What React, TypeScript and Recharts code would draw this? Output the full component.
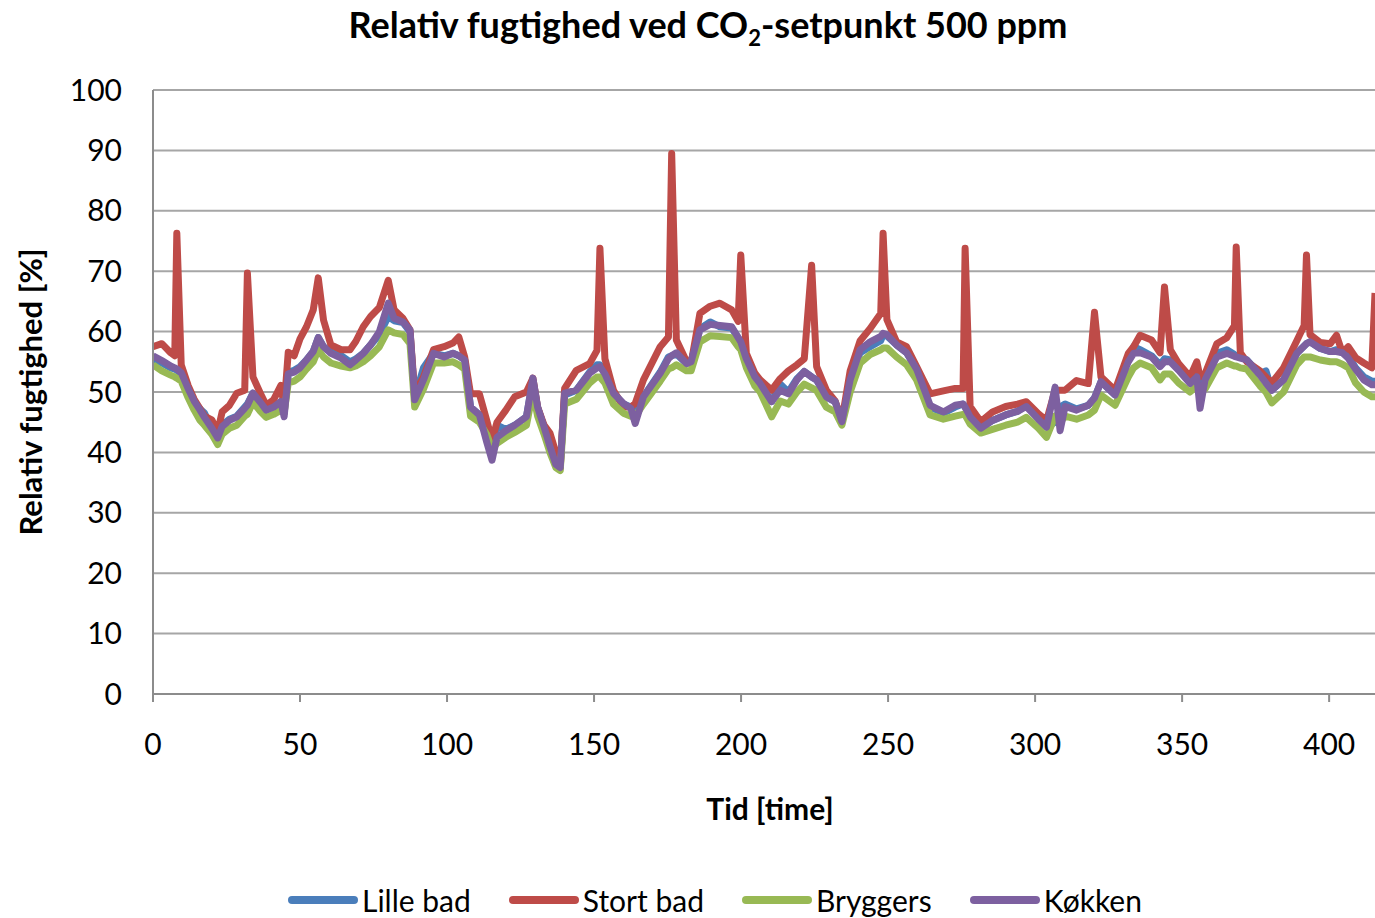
import React from 'react';
import { LineChart, Line, XAxis, YAxis, CartesianGrid, Legend } from 'recharts';

// time [hours]
const hours = [
  0, 3, 6, 7.4, 8.1, 9.6, 12, 14, 16, 17.5, 20, 22, 23.5, 26, 28.5, 31.2, 32.1, 34, 36.5, 38.5,
  41, 43.5, 44.6, 46, 48, 50, 52.2, 54.5, 56.2, 58, 60.5, 64, 67, 69, 71.5, 74, 77, 80, 82, 85,
  87.4, 89, 92, 95.4, 99, 102, 104, 106, 108, 111, 113.5, 115.3, 117, 120, 123, 127, 129.2, 130.8, 133, 135,
  137, 138.5, 140, 144, 148.5, 151, 152, 153.7, 156.6, 160, 162.5, 164, 166.8, 172.5, 175.3, 176.4, 178, 181.5, 183, 186,
  189.5, 192.8, 196.8, 199, 199.9, 201.8, 204.7, 206.5, 210.4, 213.3, 216.1, 219, 221.5, 224, 225.7, 229, 232, 234.3, 237.1, 240.5,
  243.9, 247.5, 248.3, 249.6, 252.9, 256.3, 259.7, 264.3, 268.8, 272.8, 275.5, 276.2, 277.9, 281.5, 285.5, 290, 294, 297, 301.1, 303.9,
  306.8, 308.5, 310.2, 314.1, 318.1, 320.2, 322.4, 327.2, 331.7, 333.5, 335.7, 339.6, 342.5, 344, 346, 348.8, 352.7, 355, 356.1, 357.8,
  361.8, 365.2, 367.8, 368.4, 369.8, 372, 376.5, 378.5, 380.5, 384.5, 389, 391.5, 392.3, 393.5, 397, 400.4, 402.5, 404.5, 406.5, 409,
  411.8, 414.5, 415.6,
];

const kokken = [
  56, 55.2, 54.3, 54, 53.8, 53.2, 50.5, 48.5, 47, 45.8, 44, 42.4, 44.3, 45.3, 45.9, 47.3, 47.8, 49.8, 48.3, 47,
  47.5, 48.4, 45.9, 53, 53.3, 54, 55.3, 56.7, 59, 57.5, 56.4, 55.6, 54.5, 55.3, 56.4, 57.8, 60, 64.7, 62.2, 61.6,
  60.3, 48.7, 52, 56.4, 55.8, 56.4, 56, 55.3, 47.5, 46.2, 41.7, 38.7, 42.5, 43.6, 44.5, 45.9, 52.3, 47.5, 44.2, 41,
  38, 37.5, 49.8, 50.3, 53.1, 54, 54.2, 53, 49.8, 48.1, 47.3, 44.8, 49.2, 53.1, 55.5, 56, 56.5, 54.7, 55, 60.3,
  61.2, 61, 60.8, 59, 58.3, 55.5, 52.5, 51.4, 48.4, 50.3, 49.7, 52, 53.4, 52.5, 52, 49.2, 48.4, 45.1, 52, 57,
  58.3, 59.2, 59.7, 59.5, 57.8, 56.5, 53.8, 47.8, 46.7, 47.8, 48, 47.5, 45.9, 44, 45.3, 46.2, 46.8, 47.6, 45.5, 44.2,
  50.8, 43.6, 47.6, 47, 47.8, 49, 51.7, 49.5, 55, 56.4, 56.5, 55.8, 54.2, 55, 55, 53.6, 51.4, 52.5, 47.3, 52,
  55.8, 56.4, 55.9, 55.8, 55.6, 55.3, 52.8, 51.5, 50.3, 52, 56.4, 57.6, 58, 58.3, 57.2, 56.7, 56.7, 56.5, 55.6, 53.8,
  52, 51.2, 51.2,
];

const stortBad = [
  57.5, 58, 56.5, 56, 76.3, 54.5, 51, 48.8, 47.2, 46, 45.4, 43.4, 46.7, 47.8, 49.8, 50.3, 69.7, 52.5, 49.8, 47.8,
  48.7, 51.1, 47.5, 56.6, 56, 58.8, 60.8, 63.6, 68.9, 61.9, 57.8, 57, 57, 58.4, 60.8, 62.5, 64, 68.5, 63.6, 62.2,
  60.3, 49.7, 52.5, 57, 57.5, 58.1, 59.1, 55.8, 49.7, 49.7, 45.3, 42, 45, 47, 49.2, 50, 52.3, 47.5, 44.5, 43.2,
  40, 37.3, 50.6, 53.6, 54.7, 56.9, 73.8, 55.5, 50.3, 47.5, 47.5, 48.1, 52, 57.5, 59.1, 89.5, 58.6, 55, 54.7, 63,
  64.2, 64.7, 63.6, 61.7, 72.7, 56.4, 53.1, 52, 50.3, 52.2, 53.5, 54.5, 55.5, 71, 54.2, 50.3, 48.5, 45.3, 53.5, 58.5,
  60.5, 63, 76.3, 62, 58.3, 57.5, 54.2, 49.7, 50.2, 50.6, 50.6, 73.8, 47.6, 45.1, 46.7, 47.6, 48, 48.4, 46.4, 45.3,
  50.3, 50.3, 50.3, 51.9, 51.4, 63.2, 52.5, 50.3, 56.4, 57.5, 59.4, 58.6, 56.5, 67.4, 57, 54.7, 52.5, 55, 52.5, 53,
  58, 59, 61, 74, 56.5, 55, 53.5, 52.5, 51.5, 54, 58.5, 61, 72.7, 59.5, 58.2, 58, 59.4, 56.5, 57.5, 55.7,
  54.8, 54, 66.4,
];

const bryggers = [
  54.5, 53.5, 52.8, 52.5, 52.3, 51.8, 49, 47, 45.3, 44.5, 43, 41.3, 43, 44, 44.5, 46, 46.3, 48.3, 46.8, 45.8,
  46.3, 47, 46.5, 51.5, 51.8, 52.5, 53.8, 55, 57, 55.8, 54.8, 54.3, 54, 54.3, 55, 56, 57.5, 60.3, 59.8, 59.5,
  58, 47.5, 50.5, 54.8, 54.8, 55, 54.5, 53.8, 46, 45, 43, 40.5, 41.5, 42.5, 43.3, 44.5, 50, 46, 43, 40,
  37.5, 37, 48, 48.8, 51.5, 52.5, 52.5, 51.5, 48, 46.5, 46, 46, 48, 51.8, 53.8, 54, 54.5, 53.5, 53.5, 58.3,
  59.3, 59.2, 59, 57.5, 57, 54, 51, 50, 45.9, 48.5, 48, 50, 51.3, 50.7, 50.2, 47.5, 46.7, 44.5, 50, 54.8,
  56.2, 57, 57.3, 57.3, 55.8, 54.5, 52, 46.2, 45.5, 46, 46.3, 46.2, 44.7, 43.2, 43.8, 44.5, 45, 45.8, 44, 42.5,
  46, 45, 46, 45.5, 46.2, 47, 49.5, 47.8, 52.5, 54, 54.8, 54, 52, 53, 53, 51.5, 50, 51, 50.5, 50.5,
  54, 54.8, 54.3, 54.3, 54, 53.8, 51, 50, 48.2, 50, 54.5, 55.8, 55.8, 55.8, 55.3, 55, 55, 54.6, 54, 51.5,
  50, 49.2, 49.2,
];

const lilleBad = [
  55.5, 54.8, 54, 53.8, 53.6, 53, 50.3, 48.3, 47.2, 46.5, 44, 42.5, 44.5, 45.5, 46, 47.5, 48, 49.8, 48.3, 47,
  47.5, 48.4, 46.5, 53.3, 53.6, 54.2, 55.3, 56.7, 59, 57.5, 56.6, 56, 55, 55.5, 56.4, 57.8, 59.5, 62.5, 61.8, 61.5,
  60, 49, 54, 56.4, 56, 56.4, 56, 55.3, 47.5, 46.2, 44, 41, 44.5, 43.8, 44.5, 45.9, 52, 47.5, 44.2, 42,
  39.5, 38, 49.5, 50.3, 53.3, 54.5, 54.5, 53, 49.8, 48, 47.5, 46, 49.2, 53.3, 55.8, 56, 56.3, 54.7, 55, 60.5,
  61.6, 60.8, 60.6, 59, 58.3, 55.5, 52.5, 51.4, 48.4, 51.3, 50, 52.2, 53.4, 52.5, 52, 49.2, 48.4, 45.1, 52, 56.5,
  57.5, 58.5, 59.5, 59.3, 57.8, 56.5, 53.8, 47.5, 46.5, 47.5, 48, 47.5, 45.9, 44, 45.3, 46.2, 46.8, 47.8, 45.8, 44.2,
  45, 47.5, 48, 47.2, 47.8, 49, 51.7, 49.5, 55.5, 57.5, 57, 56, 54.5, 55.5, 55.3, 54, 52, 54.5, 51, 52.5,
  56.4, 57, 56.2, 56, 55.8, 55.3, 53, 53.5, 50.3, 52, 56.4, 57.6, 58, 58.3, 57.2, 56.7, 57, 56.5, 56, 54,
  52.5, 51.8, 51.8,
];

const yTicks = [0, 10, 20, 30, 40, 50, 60, 70, 80, 90, 100];
const xTicks = [0, 50, 100, 150, 200, 250, 300, 350, 400];

// series in drawing / legend order
const series = [
  { key: 'lilleBad', name: 'Lille bad', color: '#4a7ebb' },
  { key: 'stortBad', name: 'Stort bad', color: '#be4b48' },
  { key: 'bryggers', name: 'Bryggers', color: '#98b954' },
  { key: 'kokken', name: 'Køkken', color: '#7d60a0' },
];

const data = hours.map((t, i) => ({
  t,
  lilleBad: lilleBad[i],
  stortBad: stortBad[i],
  bryggers: bryggers[i],
  kokken: kokken[i],
}));

const FONT = 'Lato, "Open Sans", sans-serif';
const AXIS_GRAY = '#8c8c8c';

const renderLegend = () => (
  <div style={{ display: 'flex', gap: 38, paddingLeft: 288, fontFamily: FONT, fontSize: 30, color: '#000', lineHeight: '36px' }}>
    {series.map((s) => (
      <div key={s.key} style={{ display: 'flex', alignItems: 'center' }}>
        <span style={{ display: 'inline-block', width: 70, height: 8, borderRadius: 4, background: s.color, marginRight: 4 }} />
        <span>{s.name}</span>
      </div>
    ))}
  </div>
);

const App: React.FC = () => {
  return (
    <div style={{ position: 'absolute', left: 0, top: 0, width: 1375, height: 918, background: '#fff' }}>
      <div style={{ position: 'absolute', left: 708, top: 2, transform: 'translateX(-50%)', whiteSpace: 'nowrap', fontFamily: FONT, fontWeight: 700, fontSize: 36, color: '#000' }}>
        Relativ fugtighed ved CO<sub style={{ fontSize: 22 }}>2</sub>-setpunkt 500 ppm
      </div>
      <LineChart width={1375} height={918} data={data} margin={{ top: 90, right: 0, left: 0, bottom: 100 }}>
        <CartesianGrid horizontal vertical={false} stroke="#a6a6a6" strokeWidth={2} />
        <XAxis
          type="number"
          dataKey="t"
          domain={[0, 415.6]}
          ticks={xTicks}
          allowDataOverflow
          height={124}
          tickSize={8}
          tickMargin={32}
          axisLine={{ stroke: AXIS_GRAY, strokeWidth: 2 }}
          tickLine={{ stroke: AXIS_GRAY, strokeWidth: 2 }}
          tick={{ fill: '#000', fontSize: 30, fontFamily: FONT }}
          label={() => (
            <text x={770} y={820} textAnchor="middle" fontFamily={FONT} fontWeight={700} fontSize={30} fill="#000">
              Tid [time]
            </text>
          )}
        />
        <YAxis
          domain={[0, 100]}
          ticks={yTicks}
          width={153}
          tickSize={0}
          tickMargin={31}
          axisLine={{ stroke: AXIS_GRAY, strokeWidth: 2 }}
          tickLine={false}
          tick={{ fill: '#000', fontSize: 30, fontFamily: FONT }}
          label={() => (
            <text x={30} y={392} transform="rotate(-90 30 392)" textAnchor="middle" dominantBaseline="central" fontFamily={FONT} fontWeight={700} fontSize={31} fill="#000">
              Relativ fugtighed [%]
            </text>
          )}
        />
        <Legend verticalAlign="middle" align="center" content={renderLegend} wrapperStyle={{ left: 0, top: 882, width: 1375 }} />
        {series.map((s) => (
          <Line
            key={s.key}
            type="linear"
            dataKey={s.key}
            name={s.name}
            stroke={s.color}
            strokeWidth={7}
            dot={false}
            strokeLinejoin="round"
            isAnimationActive={false}
          />
        ))}
      </LineChart>
    </div>
  );
};

export default App;
